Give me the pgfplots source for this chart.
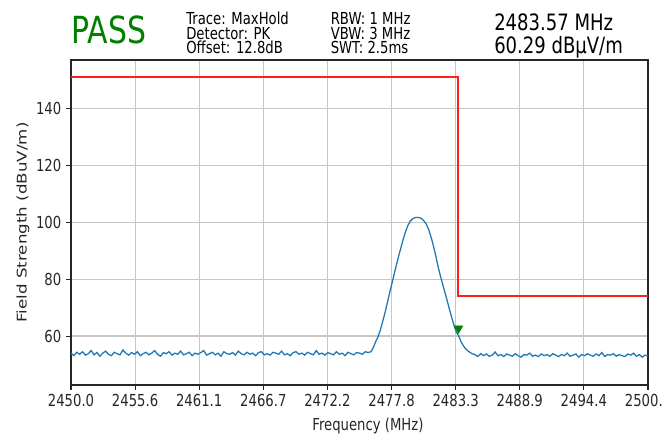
\documentclass[border=0pt]{standalone}
\usepackage{pgfplots}
\pgfplotsset{compat=1.18}
\usepackage{fontspec}
\usepackage{graphicx}
\setmainfont{DejaVu Sans}[FakeStretch=0.8]
\newfontfamily\plainfont{DejaVu Sans}
\definecolor{tblue}{HTML}{1F77B4}
\definecolor{mgreen}{HTML}{008000}
\definecolor{lred}{RGB}{255,30,30}
\begin{document}
\begin{tikzpicture}[x=0.75pt,y=0.75pt]
\useasboundingbox (0,0) rectangle (662,437);
% header texts
\node[anchor=base west,inner sep=0,text=mgreen,font=\fontsize{28}{30}\selectfont] at (71.5,393.7) {PASS};
\begin{scope}[every node/.style={anchor=base west,inner sep=0,font=\fontsize{12.4}{14}\selectfont}]
\node at (186,412) {Trace: MaxHold};
\node at (186,397.7) {Detector: PK};
\node at (186,383.7) {Offset: 12.8dB};
\node at (330.5,412) {RBW: 1 MHz};
\node at (330.5,397.7) {VBW: 3 MHz};
\node at (330.5,383.7) {SWT: 2.5ms};
\end{scope}
\node[anchor=base west,inner sep=0,font=\fontsize{16.9}{18}\selectfont] at (494,406.3) {2483.57 MHz};
\node[anchor=base west,inner sep=0,font=\fontsize{16.9}{18}\selectfont] at (494,383.7) {60.29 dBµV/m};
\begin{axis}[
  at={(53.25pt,39pt)}, anchor=south west,
  width=432.75pt, height=243.75pt, scale only axis,
  xmin=2450, xmax=2500, ymin=42.8, ymax=157,
  xtick={2450,2455.5556,2461.1111,2466.6667,2472.2222,2477.7778,2483.3333,2488.8889,2494.4444,2500},
  xticklabels={2450.0,2455.6,2461.1,2466.7,2472.2,2477.8,2483.3,2488.9,2494.4,2500.0},
  ytick={60,80,100,120,140},
  tick align=outside, tick pos=left,
  major tick length=3.75pt,
  grid=major,
  grid style={black!22, line width=0.9pt},
  axis line style={black!85, line width=0.8pt},
  tick style={black!85, line width=0.8pt},
  ticklabel style={font=\fontsize{12.4}{14}\selectfont, text=black!85},
  /pgf/number format/assume math mode=true,
  xlabel={Frequency (MHz)},
  every axis x label/.style={at={(axis description cs:0.5146,-0.1385)}, anchor=base, font=\fontsize{12.4}{14}\selectfont, text=black!85},
  ylabel={\scalebox{1}[0.8]{\plainfont Field Strength (dBuV/m)}},
  every axis y label/.style={at={(axis description cs:-0.0771,0.5)}, rotate=90, anchor=base, font=\fontsize{12.5}{14}\selectfont, text=black!85},
]
\addplot[tblue, line width=0.95pt] coordinates {
(2450,54.0)(2450.25,53.1)(2450.5,54.3)(2450.75,53.6)(2451,54.5)(2451.25,53.3)(2451.5,53.8)(2451.75,54.9)(2452,53.4)(2452.25,54.2)
(2452.5,52.9)(2452.75,54.0)(2453,54.7)(2453.25,53.6)(2453.5,53.1)(2453.75,54.3)(2454,53.8)(2454.25,53.4)(2454.5,55.1)(2454.75,54.0)
(2455,53.3)(2455.25,54.2)(2455.5,53.6)(2455.75,54.5)(2456,53.1)(2456.25,53.8)(2456.5,54.3)(2456.75,53.4)(2457,54.0)(2457.25,54.9)
(2457.5,53.6)(2457.75,52.9)(2458,54.2)(2458.25,53.8)(2458.5,54.5)(2458.75,53.3)(2459,54.0)(2459.25,53.6)(2459.5,54.7)(2459.75,53.4)
(2460,53.8)(2460.25,54.3)(2460.5,53.1)(2460.75,54.0)(2461,53.6)(2461.25,54.2)(2461.5,54.9)(2461.75,53.3)(2462,53.8)(2462.25,54.3)
(2462.5,53.4)(2462.75,54.0)(2463,52.9)(2463.25,54.5)(2463.5,53.8)(2463.75,53.6)(2464,54.2)(2464.25,53.3)(2464.5,54.7)(2464.75,53.8)
(2465,53.4)(2465.25,54.3)(2465.5,53.6)(2465.75,54.0)(2466,53.1)(2466.25,54.2)(2466.5,54.5)(2466.75,53.4)(2467,53.8)(2467.25,53.3)
(2467.5,54.3)(2467.75,54.0)(2468,53.6)(2468.25,54.7)(2468.5,53.4)(2468.75,53.8)(2469,53.1)(2469.25,54.2)(2469.5,54.5)(2469.75,53.6)
(2470,54.0)(2470.25,53.3)(2470.5,54.3)(2470.75,53.8)(2471,53.4)(2471.25,54.9)(2471.5,53.6)(2471.75,54.0)(2472,53.3)(2472.25,54.2)
(2472.5,53.8)(2472.75,53.4)(2473,54.5)(2473.25,53.6)(2473.5,54.0)(2473.75,53.1)(2474,54.3)(2474.25,53.8)(2474.5,53.4)(2474.75,54.2)
(2475,54.0)(2475.25,53.6)(2475.5,54.5)(2475.75,54.2)
(2476.0,54.5)(2476.2,56.0)(2476.4,58.0)(2476.6,59.7)(2476.8,62.0)(2477.0,65.0)(2477.2,68.0)(2477.4,71.5)(2477.6,75.0)(2477.8,78.3)
(2478.0,81.7)(2478.2,85.0)(2478.4,88.2)(2478.6,91.2)(2478.8,94.2)(2479.0,96.8)(2479.2,98.9)(2479.4,100.4)(2479.6,101.2)(2479.8,101.6)
(2480.0,101.7)(2480.2,101.6)(2480.4,101.2)(2480.6,100.4)(2480.8,99.2)(2481.0,97.4)(2481.2,94.8)(2481.4,91.8)(2481.6,88.4)(2481.8,84.6)
(2482.0,81.3)(2482.2,78.3)(2482.4,75.4)(2482.6,72.4)(2482.8,69.3)(2483.0,66.4)(2483.2,63.6)(2483.4,61.3)(2483.57,60.29)(2483.8,58.0)
(2484.0,56.6)(2484.2,55.5)(2484.4,54.8)(2484.6,54.2)(2484.8,53.7)
(2485,53.5)(2485.25,52.8)(2485.5,53.8)(2485.75,53.1)(2486,53.7)(2486.25,52.9)(2486.5,53.3)(2486.75,54.4)(2487,53.1)(2487.25,53.5)
(2487.5,52.8)(2487.75,53.7)(2488,53.3)(2488.25,52.9)(2488.5,53.8)(2488.75,53.1)(2489,52.6)(2489.25,53.5)(2489.5,53.3)(2489.75,54.0)
(2490,52.9)(2490.25,53.3)(2490.5,52.8)(2490.75,53.7)(2491,53.1)(2491.25,53.5)(2491.5,52.9)(2491.75,53.8)(2492,53.3)(2492.25,52.8)
(2492.5,53.5)(2492.75,53.1)(2493,54.0)(2493.25,52.9)(2493.5,53.3)(2493.75,53.7)(2494,52.6)(2494.25,53.5)(2494.5,53.1)(2494.75,53.8)
(2495,53.3)(2495.25,52.9)(2495.5,53.7)(2495.75,53.1)(2496,54.2)(2496.25,52.8)(2496.5,53.5)(2496.75,53.3)(2497,53.8)(2497.25,52.9)
(2497.5,53.5)(2497.75,53.1)(2498,52.8)(2498.25,53.7)(2498.5,53.3)(2498.75,54.0)(2499,52.9)(2499.25,53.5)(2499.5,52.6)(2499.75,53.3)
(2500,53.1)
};
\addplot[lred, line width=1.4pt] coordinates {(2450,151)(2483.5,151)(2483.5,74)(2500,74)};
\addplot[only marks, mark=triangle*, mark size=3.8pt, mark options={rotate=180, fill=mgreen, draw=mgreen}] coordinates {(2483.57,62.7)};
\end{axis}
\end{tikzpicture}
\end{document}
